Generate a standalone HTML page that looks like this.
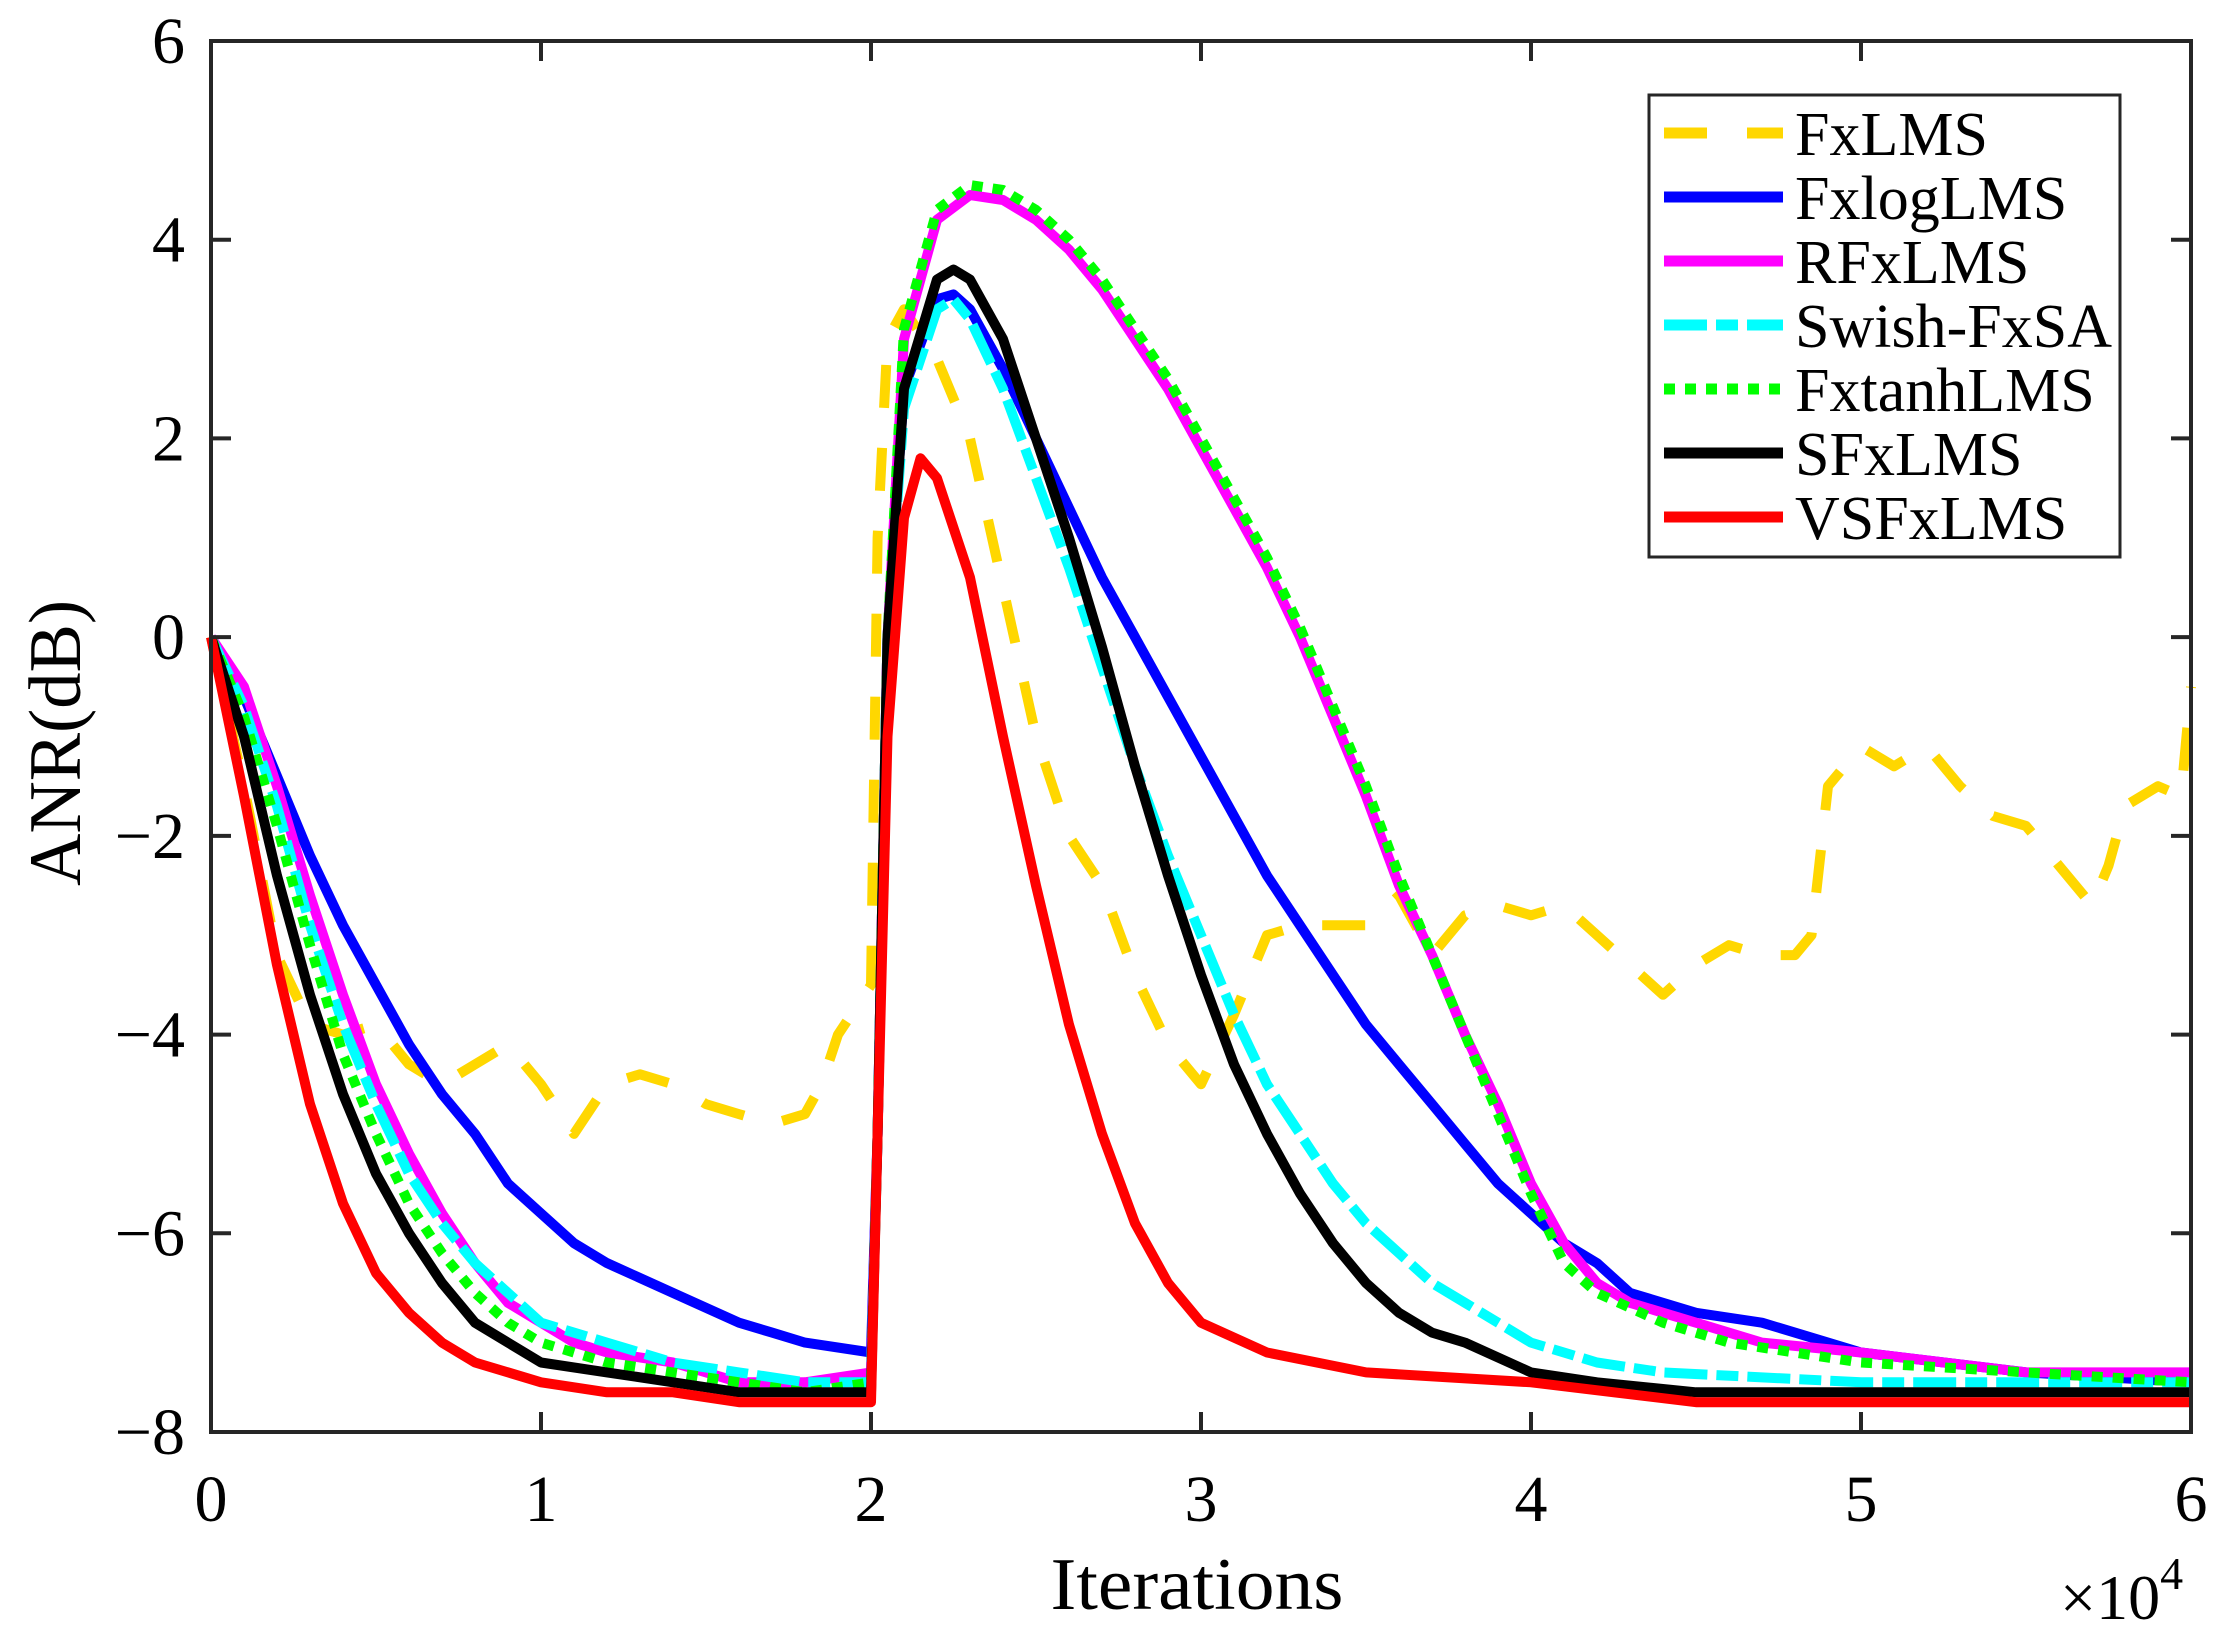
<!DOCTYPE html>
<html><head><meta charset="utf-8"><style>
html,body{margin:0;padding:0;background:#fff;}
svg{display:block;}
text{font-family:"Liberation Serif",serif;fill:#000;}
</style></head><body>
<svg id="chart" width="2229" height="1642" viewBox="0 0 2229 1642" xmlns="http://www.w3.org/2000/svg">
<g id="series"></g>
<rect x="211" y="41" width="1980" height="1391" fill="none" stroke="#262626" stroke-width="4"/>
<g id="ticks"></g>
<text x="1197" y="1609" font-size="74" text-anchor="middle" textLength="293" lengthAdjust="spacingAndGlyphs">Iterations</text>
<text x="2060" y="1619" font-size="64">×10<tspan font-size="46" dy="-30">4</tspan></text>
<text transform="translate(80,743) rotate(-90)" font-size="74" text-anchor="middle" textLength="286" lengthAdjust="spacingAndGlyphs">ANR(dB)</text>
<g id="legend">
<rect x="1649" y="95" width="471" height="462" fill="#fff" stroke="#262626" stroke-width="3"/>
</g>
</svg>
<script>
const xTicks=[0,1,2,3,4,5,6];
const yTicks=[-8,-6,-4,-2,0,2,4,6];
const seriesNames=["FxLMS","FxlogLMS","RFxLMS","Swish-FxSA","FxtanhLMS","SFxLMS","VSFxLMS"];
const fxlmsX=[0,0.1,0.2,0.3,0.4,0.5,0.6,0.7,0.8,0.9,1.0,1.1,1.2,1.3,1.4,1.5,1.6,1.7,1.8,1.85,1.9,2.0,2.02,2.05,2.1,2.2,2.3,2.4,2.5,2.6,2.7,2.8,2.9,3.0,3.1,3.2,3.3,3.5,3.6,3.7,3.8,3.9,4.0,4.1,4.2,4.3,4.4,4.5,4.6,4.7,4.8,4.85,4.9,5.0,5.1,5.2,5.3,5.4,5.5,5.6,5.7,5.75,5.8,5.9,5.97,6.0];
const fxlmsY=[0,-1.5,-3.2,-3.9,-4.0,-3.9,-4.3,-4.5,-4.3,-4.1,-4.5,-5.0,-4.5,-4.4,-4.5,-4.7,-4.8,-4.9,-4.8,-4.5,-4.0,-3.5,1,3.0,3.3,2.8,2.0,0.5,-1.0,-2.0,-2.5,-3.4,-4.1,-4.5,-3.8,-3.0,-2.9,-2.9,-2.6,-3.2,-2.8,-2.7,-2.8,-2.7,-3.0,-3.3,-3.6,-3.3,-3.1,-3.2,-3.2,-3.0,-1.5,-1.1,-1.3,-1.1,-1.5,-1.8,-1.9,-2.3,-2.7,-2.3,-1.7,-1.5,-1.6,-0.5];
const logX=[0,0.1,0.2,0.3,0.4,0.5,0.6,0.7,0.8,0.9,1.0,1.1,1.2,1.4,1.6,1.7,1.8,2.0,2.02,2.05,2.1,2.2,2.25,2.3,2.4,2.5,2.6,2.7,2.8,2.9,3.0,3.1,3.2,3.3,3.4,3.5,3.6,3.7,3.8,3.9,4.0,4.1,4.2,4.3,4.5,4.7,5.0,5.5,6.0];
const logY=[0,-0.6,-1.4,-2.2,-2.9,-3.5,-4.1,-4.6,-5.0,-5.5,-5.8,-6.1,-6.3,-6.6,-6.9,-7.0,-7.1,-7.2,-5,0,2.5,3.4,3.45,3.3,2.7,2.0,1.3,0.6,0,-0.6,-1.2,-1.8,-2.4,-2.9,-3.4,-3.9,-4.3,-4.7,-5.1,-5.5,-5.8,-6.1,-6.3,-6.6,-6.8,-6.9,-7.2,-7.4,-7.5];
const rX=[0,0.1,0.2,0.3,0.4,0.5,0.6,0.7,0.8,0.9,1.0,1.1,1.2,1.4,1.6,1.8,2.0,2.02,2.05,2.1,2.2,2.3,2.4,2.5,2.6,2.7,2.8,2.9,3.0,3.1,3.2,3.3,3.4,3.5,3.6,3.7,3.8,3.9,4.0,4.1,4.2,4.3,4.5,4.7,5.0,5.5,6.0];
const rY=[0,-0.5,-1.5,-2.6,-3.6,-4.5,-5.2,-5.8,-6.3,-6.7,-6.9,-7.1,-7.2,-7.3,-7.5,-7.5,-7.4,-5,0,3.0,4.2,4.45,4.4,4.2,3.9,3.5,3.0,2.5,1.9,1.3,0.7,0.0,-0.8,-1.6,-2.5,-3.2,-4.0,-4.7,-5.5,-6.1,-6.5,-6.7,-6.9,-7.1,-7.2,-7.4,-7.4];
const swX=[0,0.1,0.2,0.3,0.4,0.5,0.6,0.7,0.8,0.9,1.0,1.2,1.4,1.6,1.8,2.0,2.02,2.05,2.1,2.2,2.25,2.3,2.4,2.5,2.6,2.7,2.8,2.9,3.0,3.1,3.2,3.3,3.4,3.5,3.6,3.7,3.8,3.9,4.0,4.2,4.4,5.0,6.0];
const swY=[0,-0.7,-1.7,-2.9,-3.9,-4.7,-5.4,-5.9,-6.3,-6.6,-6.9,-7.1,-7.3,-7.4,-7.5,-7.5,-5,0,2.3,3.3,3.4,3.2,2.5,1.6,0.7,-0.3,-1.3,-2.2,-3.0,-3.8,-4.5,-5.0,-5.5,-5.9,-6.2,-6.5,-6.7,-6.9,-7.1,-7.3,-7.4,-7.5,-7.5];
const tanhX=[0,0.1,0.2,0.3,0.4,0.5,0.6,0.7,0.8,0.9,1.0,1.2,1.4,1.6,1.8,2.0,2.02,2.05,2.1,2.2,2.3,2.4,2.5,2.6,2.7,2.8,2.9,3.0,3.1,3.2,3.3,3.4,3.5,3.6,3.7,3.8,3.9,4.0,4.1,4.2,4.4,4.6,5.0,5.5,6.0];
const tanhY=[0,-0.8,-1.9,-3.1,-4.2,-5.0,-5.7,-6.2,-6.6,-6.9,-7.1,-7.3,-7.4,-7.5,-7.6,-7.5,-5,0,3.1,4.3,4.55,4.5,4.3,4.0,3.6,3.1,2.6,2.0,1.4,0.8,0.1,-0.7,-1.5,-2.4,-3.2,-4.0,-4.8,-5.6,-6.3,-6.6,-6.9,-7.1,-7.3,-7.4,-7.5];
const sX=[0,0.1,0.2,0.3,0.4,0.5,0.6,0.7,0.8,0.9,1.0,1.2,1.4,1.6,1.8,2.0,2.02,2.05,2.1,2.2,2.25,2.3,2.4,2.5,2.6,2.7,2.8,2.9,3.0,3.1,3.2,3.3,3.4,3.5,3.6,3.7,3.8,4.0,4.2,4.5,5.0,6.0];
const sY=[0,-1.0,-2.4,-3.6,-4.6,-5.4,-6.0,-6.5,-6.9,-7.1,-7.3,-7.4,-7.5,-7.6,-7.6,-7.6,-5,0,2.5,3.6,3.7,3.6,3.0,2.0,1.0,-0.1,-1.3,-2.4,-3.4,-4.3,-5.0,-5.6,-6.1,-6.5,-6.8,-7.0,-7.1,-7.4,-7.5,-7.6,-7.6,-7.6];
const vsX=[0,0.1,0.2,0.3,0.4,0.5,0.6,0.7,0.8,1.0,1.2,1.4,1.6,1.8,2.0,2.02,2.05,2.1,2.15,2.2,2.3,2.4,2.5,2.6,2.7,2.8,2.9,3.0,3.2,3.5,4.0,4.5,5.0,6.0];
const vsY=[0,-1.6,-3.3,-4.7,-5.7,-6.4,-6.8,-7.1,-7.3,-7.5,-7.6,-7.6,-7.7,-7.7,-7.7,-5,-1,1.2,1.8,1.6,0.6,-1.0,-2.5,-3.9,-5.0,-5.9,-6.5,-6.9,-7.2,-7.4,-7.5,-7.7,-7.7,-7.7];

const NS="http://www.w3.org/2000/svg";
const X0=211,X1=2191,Y0=41,Y1=1432;
function sx(v){return X0+(v/6)*(X1-X0);}
function sy(v){return Y0+(6-v)/14*(Y1-Y0);}
const styles=[
 {c:"#FFD700",d:"43 40"},{c:"#0000FF",d:""},{c:"#FF00FF",d:""},
 {c:"#00FFFF",d:"43 9 22 9"},{c:"#00FF00",d:"11 10"},{c:"#000000",d:""},{c:"#FF0000",d:""}];
const allX=[fxlmsX,logX,rX,swX,tanhX,sX,vsX];
const allY=[fxlmsY,logY,rY,swY,tanhY,sY,vsY];
const seriesKeys=["fxlms","fxloglms","rfxlms","swish-fxsa","fxtanhlms","sfxlms","vsfxlms"];
const sg=document.getElementById("series");
for(let i=0;i<7;i++){
 const p=document.createElementNS(NS,"polyline");
 p.setAttribute("points",allX[i].map((x,k)=>sx(x).toFixed(1)+","+sy(allY[i][k]).toFixed(1)).join(" "));
 p.setAttribute("fill","none");p.setAttribute("stroke",styles[i].c);
 p.setAttribute("stroke-width","10");p.setAttribute("stroke-linejoin","round");
 if(styles[i].d)p.setAttribute("stroke-dasharray",styles[i].d);
 
 
 sg.appendChild(p);
}
const tg=document.getElementById("ticks");
xTicks.forEach(v=>{
 const x=sx(v);
 const l=document.createElementNS(NS,"path");
 l.setAttribute("d",`M${x},${Y1}V${Y1-20}M${x},${Y0}V${Y0+20}`);
 l.setAttribute("stroke","#262626");l.setAttribute("stroke-width","4");
 
 
 tg.appendChild(l);
 const t=document.createElementNS(NS,"text");
 t.setAttribute("x",x);t.setAttribute("y",1521);t.setAttribute("font-size","66");t.setAttribute("text-anchor","middle");
 t.textContent=v;
 
 
 tg.appendChild(t);
});
yTicks.forEach(v=>{
 const y=sy(v);
 const l=document.createElementNS(NS,"path");
 l.setAttribute("d",`M${X0},${y}H${X0+20}M${X1},${y}H${X1-20}`);
 l.setAttribute("stroke","#262626");l.setAttribute("stroke-width","4");
 
 
 tg.appendChild(l);
 const t=document.createElementNS(NS,"text");
 t.setAttribute("x",185);t.setAttribute("y",y+22);t.setAttribute("font-size","66");t.setAttribute("text-anchor","end");
 t.textContent=v<0?"\u2212"+(-v):String(v);
 
 
 tg.appendChild(t);
});
const lg=document.getElementById("legend");
seriesNames.forEach((n,i)=>{
 const y=133+i*64;
 const l=document.createElementNS(NS,"line");
 l.setAttribute("x1",1664);l.setAttribute("x2",1783);l.setAttribute("y1",y);l.setAttribute("y2",y);
 l.setAttribute("stroke",styles[i].c);l.setAttribute("stroke-width","11");
 if(styles[i].d)l.setAttribute("stroke-dasharray",styles[i].d);
 
 
 lg.appendChild(l);
 const t=document.createElementNS(NS,"text");
 t.setAttribute("x",1795);t.setAttribute("y",y+22);t.setAttribute("font-size","62");
 t.textContent=n;
 
 
 lg.appendChild(t);
});
</script>
</body></html>
